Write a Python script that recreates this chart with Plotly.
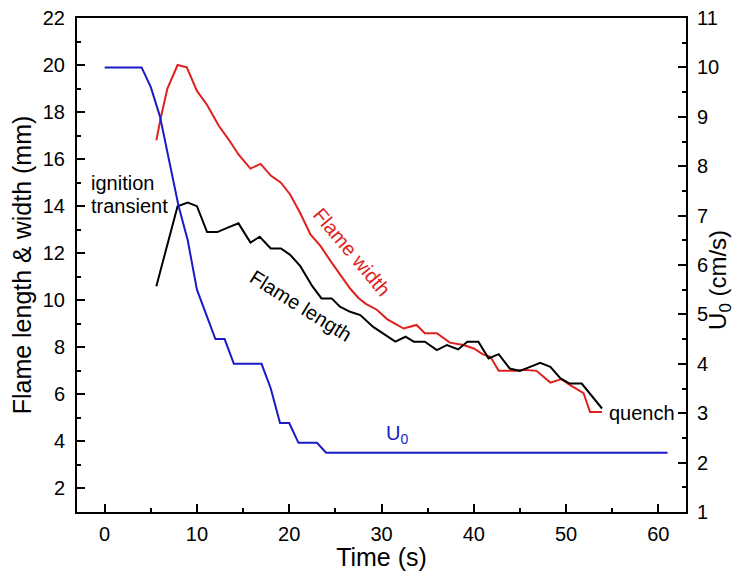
import plotly.graph_objects as go

# U0 (right axis, cm/s)
u_time = [0, 4, 5, 6, 7, 8, 9, 10, 11, 12, 13, 14, 17, 18, 19, 20, 21, 23, 24, 61]
u_vals = [10, 10, 9.6, 9.0, 8.1, 7.2, 6.5, 5.5, 5.0, 4.5, 4.5, 4.0, 4.0, 3.5, 2.8, 2.8, 2.4, 2.4, 2.2, 2.2]

# Flame width (left axis, mm)
w_time = [5.6, 6.1, 6.8, 7.9, 8.9, 10.0, 11.1, 12.4, 13.5, 14.5, 15.8, 16.9, 18.0, 19.1, 20.1,
          21.2, 22.3, 23.4, 24.6, 25.5, 26.6, 27.5, 28.3, 29.5, 30.6, 31.5, 32.4, 33.8, 34.7,
          36.0, 37.4, 38.9, 40.0, 41.0, 41.8, 42.7, 44.6, 45.4, 46.8, 48.3, 49.5, 50.4, 51.9,
          52.6, 53.9]
w_vals = [16.8, 17.8, 19.0, 20.0, 19.9, 18.9, 18.3, 17.4, 16.8, 16.2, 15.6, 15.8, 15.3, 15.0, 14.5,
          13.7, 12.8, 12.3, 11.6, 11.1, 10.5, 10.1, 9.85, 9.6, 9.2, 9.0, 8.8, 8.95, 8.6,
          8.6, 8.2, 8.1, 7.95, 7.7, 7.6, 7.0, 7.0, 7.05, 7.0, 6.5, 6.65, 6.4, 6.05,
          5.25, 5.25]

# Flame length (left axis, mm)
l_time = [5.6, 6.6, 7.9, 9.0, 10.0, 11.1, 12.2, 13.4, 14.5, 15.8, 16.8, 18.0, 19.1, 20.1, 21.2,
          22.5, 23.5, 24.6, 25.5, 26.6, 27.7, 29.1, 30.4, 31.5, 32.6, 33.5, 34.7, 36.0, 37.1,
          38.3, 39.3, 40.5, 41.6, 42.7, 43.9, 45.0, 46.1, 47.2, 48.3, 49.4, 50.4, 51.7, 53.9]
l_vals = [10.6, 12.1, 14.0, 14.15, 14.0, 12.9, 12.9, 13.1, 13.27, 12.45, 12.7, 12.2, 12.2, 11.93, 11.45,
          10.6, 10.08, 10.08, 9.73, 9.51, 9.37, 8.87, 8.52, 8.24, 8.45, 8.24, 8.24, 7.88, 8.10,
          7.91, 8.24, 8.24, 7.53, 7.71, 7.10, 7.0, 7.17, 7.34, 7.17, 6.68, 6.46, 6.46, 5.40]

RED = "#e0201c"
BLUE = "#1a1ac8"
FONT = "Liberation Sans, Arial, sans-serif"

fig = go.Figure()
fig.add_trace(go.Scatter(x=w_time, y=w_vals, mode="lines", line=dict(color=RED, width=2), showlegend=False))
fig.add_trace(go.Scatter(x=l_time, y=l_vals, mode="lines", line=dict(color="black", width=2), showlegend=False))
fig.add_trace(go.Scatter(x=u_time, y=u_vals, mode="lines", line=dict(color=BLUE, width=2),
                         yaxis="y2", showlegend=False))

axis_common = dict(showline=True, linecolor="black", linewidth=2, ticks="inside", ticklen=8,
                   tickwidth=2, tickcolor="black", showgrid=False, zeroline=False, automargin=False,
                   tickfont=dict(family=FONT, size=20, color="black"))

fig.update_layout(
    width=735, height=571,
    margin=dict(l=77, r=49, t=18, b=59),
    plot_bgcolor="white", paper_bgcolor="white",
    font=dict(family=FONT, color="black"),
    xaxis=dict(range=[-3, 63], dtick=10, tick0=0, mirror=True,
               minor=dict(dtick=5, ticklen=4, tickwidth=2, tickcolor="black", ticks="inside"),
               title=dict(text="Time (s)", font=dict(size=25), standoff=2),
               ticklabelstandoff=3, **axis_common),
    yaxis=dict(range=[1, 22], dtick=2, tick0=0, mirror=True,
               minor=dict(dtick=1, ticklen=4, tickwidth=2, tickcolor="black", ticks="inside"),
               title=dict(text="Flame length & width (mm)", font=dict(size=25), standoff=4),
               ticklabelstandoff=6, **axis_common),
    yaxis2=dict(range=[1, 11], dtick=1, tick0=0, overlaying="y", side="right",
                minor=dict(dtick=0.5, ticklen=4, tickwidth=2, tickcolor="black", ticks="inside"),
                ticklabelstandoff=5, **axis_common),
)

fig.add_annotation(xref="paper", yref="paper", x=1.056, y=0.47, text="U<sub>0</sub> (cm/s)",
                   showarrow=False, textangle=-90, xanchor="center", yanchor="middle",
                   font=dict(family=FONT, size=24, color="black"))

ann_font = dict(family=FONT, size=20, color="black")
fig.add_annotation(x=-1.7, y=15, text="ignition", showarrow=False, xanchor="left", yanchor="middle", font=ann_font)
fig.add_annotation(x=-1.7, y=14, text="transient", showarrow=False, xanchor="left", yanchor="middle", font=ann_font)
fig.add_annotation(x=26.8, y=12.05, text="Flame width", showarrow=False, textangle=50,
                   font=dict(family=FONT, size=20, color=RED))
fig.add_annotation(x=21.3, y=9.75, text="Flame length", showarrow=False, textangle=32, font=ann_font)
fig.add_annotation(x=54.4, y=5.2, text="quench", showarrow=False, xanchor="left", yanchor="middle", font=ann_font)
fig.add_annotation(x=31.7, y=4.3, text="U<sub>0</sub>", showarrow=False,
                   font=dict(family=FONT, size=20, color=BLUE))

fig.write_html("out.html", config={"displayModeBar": False},
               post_script="document.body.style.margin='0';")
